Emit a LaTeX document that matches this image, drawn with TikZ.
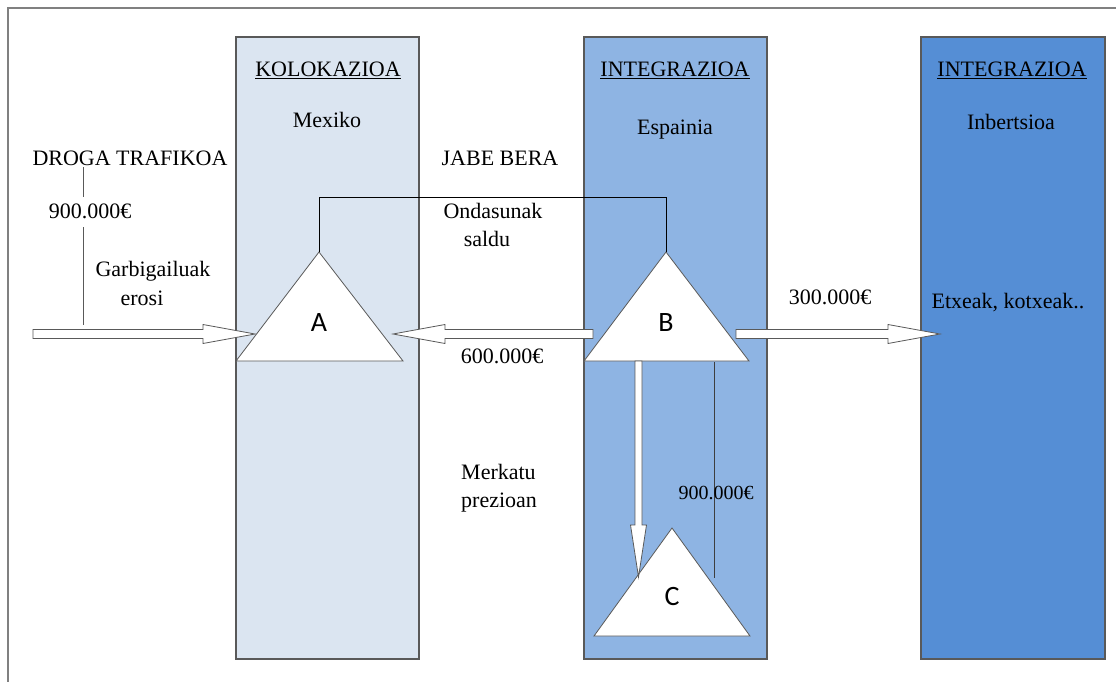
\documentclass[tikz,border=0pt]{standalone}
\usepackage{fontspec}
\setmainfont{Liberation Serif}
\newfontfamily\labelfont{Carlito}
\usetikzlibrary{positioning,calc}

\definecolor{paleblue}{HTML}{DBE5F1}
\definecolor{midblue}{HTML}{8EB4E3}
\definecolor{deepblue}{HTML}{558ED5}
\definecolor{edgegray}{HTML}{595959}

\tikzset{
  column/.style={draw=edgegray, line width=1.3pt},
  txt/.style={anchor=base, inner sep=0pt, font=\fontsize{22}{26}\selectfont},
  tri/.style={draw=edgegray, fill=white, line width=0.8pt},
  arrowbody/.style={draw=edgegray, fill=white, line width=0.8pt},
  corner/.style={inner sep=0pt, font=\labelfont\fontsize{28}{32}\selectfont},
}

% hollow block arrow: #1 start, #2 tip, #3 half shaft, #4 half head
\newcommand{\blockarrow}[4]{%
  \coordinate (hb) at ($(#2)!52pt!(#1)$);
  \draw[arrowbody] ($(#1)!#3!90:(#2)$) -- ($(hb)!#3!-90:(#1)$) -- ($(hb)!#4!-90:(#1)$)
    -- (#2) -- ($(hb)!#4!90:(#1)$) -- ($(hb)!#3!90:(#1)$) -- ($(#1)!#3!-90:(#2)$) -- cycle;
}

\begin{document}
\begin{tikzpicture}[x=1pt,y=-1pt]
  \useasboundingbox (0,0) rectangle (1116,682);
  % frame
  \draw[gray, line width=1.3pt] (8,682) -- (8,8) -- (1116,8);

  % columns
  \draw[column, fill=paleblue] (236,37) rectangle (419,659);
  \draw[column, fill=midblue] (584,37) rectangle (767,659);
  \draw[column, fill=deepblue] (921,37) rectangle (1105,659);

  \node[txt] (kolok) at (328,77) {\underline{KOLOKAZIOA}};
  \node[txt] (mexiko) at (327,128) {Mexiko};
  \node[txt] (integB) at (675,77) {\underline{INTEGRAZIOA}};
  \node[txt] (espainia) at (675,135) {Espainia};
  \node[txt] (integC) at (1012,77) {\underline{INTEGRAZIOA}};
  \node[txt] (inbert) at (1011,130) {Inbertsioa};

  % triangles
  \coordinate (Atop) at (319,252);
  \coordinate (Aleft) at (236,361);
  \coordinate (Aright) at (403,361);
  \coordinate (Btop) at (666,252);
  \coordinate (Bleft) at (584,361);
  \coordinate (Bright) at (749,361);
  \coordinate (Ctop) at (672,528);
  \coordinate (Cleft) at (594,636);
  \coordinate (Cright) at (750,636);
  \draw[tri] (Atop) -- (Aleft) -- (Aright) -- cycle;
  \draw[tri] (Btop) -- (Bleft) -- (Bright) -- cycle;
  \draw[tri] (Ctop) -- (Cleft) -- (Cright) -- cycle;
  \node[corner] (A) at (319,323) {A};
  \node[corner] (B) at (666,323) {B};
  \node[corner] (C) at (672,597) {C};

  % same owner link
  \draw[line width=0.8pt] (Atop) -- ++(0,-55) -| (Btop);

  % left side texts
  \node[txt] (droga) at (130,165) {DROGA TRAFIKOA};
  \node[txt] (moneyIn) at (90,218) {900.000€};
  \node[txt] (garbi) at (153,276) {Garbigailuak};
  \node[txt] (erosi) at (142,305) {erosi};
  \coordinate (dropTop) at (83,167);
  \coordinate (dropMid) at (83,197);
  \coordinate (dropLow) at (83,227);
  \coordinate (dropEnd) at (83,325);
  \draw[edgegray, line width=1pt] (dropTop) -- (dropMid) (dropLow) -- (dropEnd);

  \node[txt] (jabe) at (500,165) {JABE BERA};
  \node[txt] (ondas) at (493,218) {Ondasunak};
  \node[txt] (saldu) at (487,246) {saldu};
  \node[txt] (moneyBack) at (502,363) {600.000€};
  \node[txt, anchor=base west] (merkatu) at (461,479) {Merkatu};
  \node[txt, anchor=base west] (prezio) at (461,507) {prezioan};
  \node[txt] (moneyOut) at (830,304) {300.000€};
  \node[txt] (etxeak) at (1008,308) {Etxeak, kotxeak..};

  % block arrows
  \coordinate (inStart) at (33,334);
  \coordinate (inTip) at (255,334);
  \blockarrow{inStart}{inTip}{4.5pt}{9.5pt}
  \coordinate (backStart) at (593,334);
  \coordinate (backTip) at (393,334);
  \blockarrow{backStart}{backTip}{4.5pt}{9.5pt}
  \coordinate (outStart) at (736,334);
  \coordinate (outTip) at (940,334);
  \blockarrow{outStart}{outTip}{4.5pt}{9.5pt}
  \coordinate (downStart) at (638.5,361);
  \coordinate (downTip) at (638.5,577);
  \blockarrow{downStart}{downTip}{3.5pt}{8pt}

  % return line C to B
  \coordinate (retTop) at (714,362);
  \coordinate (retEnd) at (714,578);
  \draw[edgegray!70!black, line width=1pt] (retTop) -- (retEnd);
  \node[txt, font=\fontsize{20}{24}\selectfont] (moneyRet) at (716,499) {900.000€};
\end{tikzpicture}
\end{document}
